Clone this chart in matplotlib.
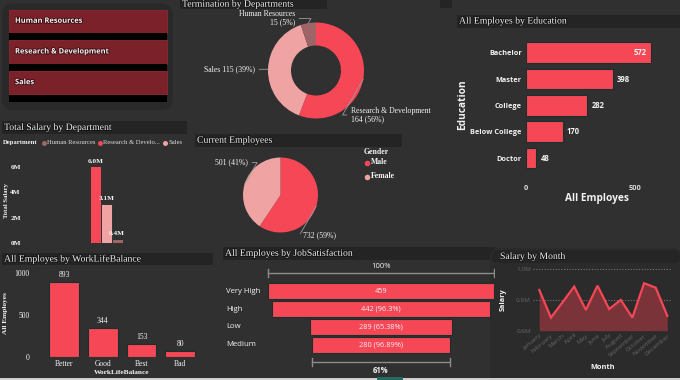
import matplotlib
matplotlib.use("Agg")
import matplotlib.pyplot as plt
from matplotlib.patches import FancyBboxPatch, Rectangle
import matplotlib.patheffects as pe
import numpy as np

# ---------------- data ----------------
departments = ["Human Resources", "Research & Development", "Sales"]
termination_counts = [15, 164, 115]
dept_total_salary_m = [0.36, 6.02, 3.06]
education_levels = ["Bachelor", "Master", "College", "Below College", "Doctor"]
education_counts = [572, 398, 282, 170, 48]
genders = ["Male", "Female"]
gender_counts = [732, 501]
wlb_levels = ["Better", "Good", "Best", "Bad"]
wlb_counts = [893, 344, 153, 80]
job_sat_levels = ["Very High", "High", "Low", "Medium"]
job_sat_counts = [459, 442, 289, 280]
months = ["January", "February", "March", "April", "May", "June", "July",
          "August", "September", "October", "November", "December"]
monthly_salary_m = [0.865, 0.685, 0.785, 0.887, 0.735, 0.893, 0.741, 0.80,
                    0.685, 0.909, 0.88, 0.696]

# ---------------- style ----------------
W, H = 680, 380
BG = "#303030"
TITLE_BG = "#242424"
RED = "#f54756"
PINK = "#f0a3a3"
MAUVE = "#9e6468"
EDGE = "#1d2e2e"
WHITE = "#f2f2f2"
SERIF = "Liberation Serif"
SANS = "Open Sans"
dept_colors = {"Human Resources": MAUVE, "Research & Development": RED, "Sales": PINK}

fig = plt.figure(figsize=(W / 100, H / 100), dpi=100, facecolor=BG)
bg = fig.add_axes([0, 0, 1, 1])
bg.set_xlim(0, W)
bg.set_ylim(H, 0)
bg.axis("off")
bg.set_zorder(0)


def px_axes(x0, y0, x1, y1):
    ax = fig.add_axes([x0 / W, 1 - y1 / H, (x1 - x0) / W, (y1 - y0) / H])
    ax.set_facecolor("none")
    ax.set_zorder(2)
    for s in ax.spines.values():
        s.set_visible(False)
    return ax


def title_box(x0, y0, x1, y1, text, ty=None):
    bg.add_patch(Rectangle((x0, y0), x1 - x0, y1 - y0, fc=TITLE_BG, ec="none"))
    bg.text(x0 + 2, (y0 + y1) / 2 if ty is None else ty, text, family=SERIF,
            fontsize=7, color=WHITE, va="center", ha="left",
            path_effects=[pe.withStroke(linewidth=1.0, foreground="#111111")])


# ---------------- slicer ----------------
bg.add_patch(FancyBboxPatch((2, 3.5), 171, 106.5, boxstyle="round,pad=0,rounding_size=12",
                            fc="#292929", ec="none"))
for i, d in enumerate(departments):
    y0 = 9.5 + i * 30.7
    bg.add_patch(Rectangle((9, y0), 158, 23.5, fc="#7a2129", ec="#8e2730", lw=0.6))
    bg.add_patch(Rectangle((9, y0 + 23.8), 158, 7, fc="black", ec="none"))
    bg.text(15, y0 + 11.8, d, family=SANS, fontsize=5.4, weight="bold", color=WHITE,
            va="center", ha="left",
            path_effects=[pe.withStroke(linewidth=1.2, foreground="#3a0a0e")])

# ---------------- termination donut ----------------
title_box(180, -4, 327, 8.5, "Termination by Departments", ty=4.2)
bg.add_patch(Rectangle((440, 0), 12, 8, fc=TITLE_BG, ec="none"))
axd = px_axes(190, 8, 440, 128)
order = [1, 2, 0]  # R&D, Sales, HR clockwise from top
vals = [termination_counts[i] for i in order]
cols = [dept_colors[departments[i]] for i in order]
cx, cy, r = 316, 380 - 70.5, 48
wedges, _ = axd.pie(vals, colors=cols, startangle=90, counterclock=False,
                    center=(cx, cy), radius=r, frame=True,
                    wedgeprops=dict(width=23, edgecolor="none"))
axd.set_xlim(190, 440)
axd.set_ylim(380 - 128, 380 - 8)
axd.axis("off")
tot = sum(termination_counts)
lab_cfg = {  # text anchor (px), alignment
    0: ((295, 18.5), "right"),
    1: ((351, 115), "left"),
    2: ((255, 69.3), "right"),
}
for w, idx in zip(wedges, order):
    ang = np.deg2rad((w.theta1 + w.theta2) / 2)
    ex, ey = cx + r * np.cos(ang), cy + r * np.sin(ang)
    (tx, ty), ha = lab_cfg[idx]
    name = departments[idx]
    pct = round(100 * termination_counts[idx] / tot)
    if idx == 2:
        txt = f"{name} {termination_counts[idx]} ({pct}%)"
    else:
        txt = f"{name}\n{termination_counts[idx]} ({pct}%)"
    axd.annotate(txt, xy=(ex, ey), xytext=(tx, 380 - ty), ha=ha, va="center",
                 family=SERIF, fontsize=5.6, color=WHITE, linespacing=1.0,
                 arrowprops=dict(arrowstyle="-", color="#9a9a9a", lw=0.6,
                                 shrinkA=1, shrinkB=0,
                                 connectionstyle="angle,angleA=0,angleB=60,rad=0"))

# ---------------- education ----------------
title_box(457, 14.5, 680, 27.5, "All Employes by Education")
axe = px_axes(526, 39.5, 672, 171.2)
ypos = np.arange(len(education_levels))
axe.barh(ypos, education_counts, height=0.78, color=RED, edgecolor=EDGE, lw=0.8)
axe.set_xlim(0, 670)
axe.set_ylim(len(education_levels) - 0.5, -0.5)
axe.set_yticks(ypos, education_levels)
axe.set_xticks([0, 500])
axe.tick_params(length=0, colors=WHITE, labelsize=5.3)
axe.tick_params(axis="y", pad=3)
axe.tick_params(axis="x", pad=10, labelcolor="#dddddd")
for lbl in axe.get_yticklabels() + axe.get_xticklabels():
    lbl.set_family(SANS)
    lbl.set_weight("bold")
mx = max(education_counts)
for y, v in zip(ypos, education_counts):
    if v > 0.85 * mx:
        axe.text(v - 17, y, str(v), ha="right", va="center", color=WHITE,
                 family=SANS, fontsize=5.5, weight="bold")
    else:
        axe.text(v + 18, y, str(v), ha="left", va="center", color=WHITE,
                 family=SANS, fontsize=5.5, weight="bold")
bg.text(597, 198, "All Employes", family=SANS, fontsize=7.3, weight="bold",
        color=WHITE, ha="center", va="center")
bg.text(463, 105, "Education", family=SANS, fontsize=7.3, weight="bold",
        color=WHITE, ha="center", va="center", rotation=90)

# ---------------- total salary by department ----------------
title_box(2, 121, 187, 134, "Total Salary by Department")
bg.text(3, 142.5, "Department", family=SERIF, fontsize=4.8, weight="bold",
        color=WHITE, ha="left", va="center")
leg_x = {"Human Resources": (43.5, "Human Resources"),
         "Research & Development": (99.5, "Research & Develo..."),
         "Sales": (165, "Sales")}
for d in departments:
    lx, lt = leg_x[d]
    bg.plot(lx, 142.5, "o", ms=3.6, color=dept_colors[d], mec="none")
    bg.text(lx + 3.5, 142.5, lt, family=SERIF, fontsize=4.8, color="#dddddd",
            ha="left", va="center")
axs = px_axes(25, 150, 187, 243.3)
sal_order = sorted(range(len(departments)), key=lambda i: -dept_total_salary_m[i])
for k, i in enumerate(sal_order):
    v = dept_total_salary_m[i]
    axs.bar(k - 1, v, width=1.0, color=dept_colors[departments[i]],
            edgecolor=EDGE, lw=0.6)
    axs.text(k - 1, v + 0.22, f"{v:.1f}M", ha="center", va="bottom", color=WHITE,
             family=SERIF, fontsize=5.2, weight="bold")
axs.set_xlim(-7.54, 7.46)
axs.set_ylim(0, 7.3)
axs.set_xticks([])
axs.set_yticks([0, 2, 4, 6], ["0M", "2M", "4M", "6M"])
axs.tick_params(length=0, colors=WHITE, labelsize=5.2, pad=3)
for lbl in axs.get_yticklabels():
    lbl.set_family(SERIF)
    lbl.set_weight("bold")
bg.text(6.5, 200, "Total Salary", family=SERIF, fontsize=4.8, weight="bold",
        color=WHITE, ha="center", va="center", rotation=90)

# ---------------- current employees pie ----------------
title_box(195, 134, 402, 146.5, "Current Employees")
axp = px_axes(190, 148, 440, 248)
pcx, pcy, pr = 280.5, 380 - 195, 37.5
pcols = [RED, PINK]
pw, _ = axp.pie(gender_counts, colors=pcols, startangle=90, counterclock=False,
                center=(pcx, pcy), radius=pr, frame=True,
                wedgeprops=dict(edgecolor="none"))
axp.set_xlim(190, 440)
axp.set_ylim(380 - 248, 380 - 148)
axp.axis("off")
gtot = sum(gender_counts)
glab = {0: ((303, 235), "left"), 1: ((248, 162.5), "right")}
for i, w in enumerate(pw):
    ang = np.deg2rad((w.theta1 + w.theta2) / 2)
    ex, ey = pcx + pr * np.cos(ang), pcy + pr * np.sin(ang)
    (tx, ty), ha = glab[i]
    pct = round(100 * gender_counts[i] / gtot)
    axp.annotate(f"{gender_counts[i]} ({pct}%)", xy=(ex, ey), xytext=(tx, 380 - ty),
                 ha=ha, va="center", family=SERIF, fontsize=5.6, color=WHITE,
                 arrowprops=dict(arrowstyle="-", color="#9a9a9a", lw=0.6,
                                 shrinkA=1, shrinkB=0,
                                 connectionstyle="angle,angleA=0,angleB=60,rad=0"))
bg.text(364, 151.5, "Gender", family=SERIF, fontsize=5.6, weight="bold",
        color=WHITE, ha="left", va="center")
for i, g in enumerate(genders):
    yy = 162.5 + i * 14
    bg.plot(367, yy, "o", ms=4, color=pcols[i], mec="none")
    bg.text(371, yy, g, family=SERIF, fontsize=5.6, weight="bold", color=WHITE,
            ha="left", va="center")

# ---------------- work life balance ----------------
title_box(2, 252.5, 213, 265, "All Employes by WorkLifeBalance")
axw = px_axes(44.85, 268, 199.65, 357.3)
xw = np.arange(len(wlb_levels))
axw.bar(xw, wlb_counts, width=0.77, color=RED, edgecolor=EDGE, lw=0.8)
for x, v in zip(xw, wlb_counts):
    axw.text(x, v + 36, str(v), ha="center", va="bottom", color=WHITE,
             family=SERIF, fontsize=5.5)
axw.set_xlim(-0.5, len(wlb_levels) - 0.5)
axw.set_ylim(0, 1063)
axw.set_xticks(xw, wlb_levels)
axw.set_yticks([0, 500, 1000])
axw.tick_params(length=0, colors=WHITE, labelsize=5.5)
axw.tick_params(axis="y", pad=11)
axw.tick_params(axis="x", pad=2)
for lbl in axw.get_yticklabels() + axw.get_xticklabels():
    lbl.set_family(SERIF)
bg.text(122, 373, "WorkLifeBalance", family=SERIF, fontsize=5.3, weight="bold",
        color=WHITE, ha="center", va="center")
bg.text(5.5, 313, "All Employes", family=SERIF, fontsize=5.3, weight="bold",
        color=WHITE, ha="center", va="center", rotation=90)

# ---------------- job satisfaction funnel ----------------
title_box(223, 246.5, 495, 259.5, "All Employes by JobSatisfaction")
axf = px_axes(223, 262, 495, 378)
s = 0.493
axf.set_xlim(-(380.85 - 223) / s, (495 - 380.85) / s)
n = len(job_sat_levels)
axf.set_ylim(4.87, -1.646)
yf = np.arange(n)
axf.barh(yf, job_sat_counts, left=[-v / 2 for v in job_sat_counts], height=0.9,
         color=RED, edgecolor=EDGE, lw=0.8)
xleft = axf.get_xlim()[0]
for i, (lvl, v) in enumerate(zip(job_sat_levels, job_sat_counts)):
    axf.text(xleft + 6, i, lvl, ha="left", va="center", color=WHITE,
             family=SANS, fontsize=5.6)
    if i == 0:
        lab = f"{v}"
    else:
        lab = f"{v} ({round(100 * v / job_sat_counts[i - 1], 2):g}%)"
    axf.text(0, i, lab, ha="center", va="center", color=WHITE, family=SANS,
             fontsize=5.3)
first, last = job_sat_counts[0], job_sat_counts[-1]
for yline, v in ((-1.01, first), (n - 1 + 0.99, last)):
    axf.plot([-v / 2, v / 2], [yline, yline], color="#8c8c8c", lw=1.0)
    for xe in (-v / 2, v / 2):
        axf.plot([xe, xe], [yline - 0.22, yline + 0.22], color="#8c8c8c", lw=1.0)
axf.text(0, -1.42, "100%", ha="center", va="center", color=WHITE, family=SANS,
         fontsize=5.5)
axf.text(0, n - 1 + 1.46, f"{round(100 * last / first)}%", ha="center", va="center",
         color=WHITE, family=SANS, fontsize=5.5, weight="bold")
axf.axis("off")

# ---------------- salary by month ----------------
bg.add_patch(FancyBboxPatch((490, 248), 193, 140, boxstyle="round,pad=0,rounding_size=10",
                            fc="#2b2b2b", ec="none"))
bg.add_patch(FancyBboxPatch((492, 250), 188, 13, boxstyle="round,pad=0,rounding_size=6",
                            fc="#252525", ec="none"))
bg.text(500, 256.5, "Salary by Month", family=SERIF, fontsize=7, color=WHITE,
        va="center", ha="left",
        path_effects=[pe.withStroke(linewidth=1.0, foreground="#111111")])
axm = px_axes(533, 266, 672, 330.7)
xm = np.arange(len(months))
axm.fill_between(xm, monthly_salary_m, 0.6, color="#7a3338", lw=0)
axm.plot(xm, monthly_salary_m, color=RED, lw=1.6, solid_joinstyle="miter")
axm.set_xlim(-0.54, 11.4)
axm.set_ylim(0.6, 1.021)
axm.set_yticks([0.6, 0.8, 1.0], ["0.6M", "0.8M", "1.0M"])
axm.grid(axis="y", color="#777777", lw=0.8, ls=(0, (1, 1.5)))
axm.set_axisbelow(True)
axm.set_xticks(xm, months, rotation=40, ha="right", rotation_mode="anchor")
axm.tick_params(length=0, colors="#666666", labelsize=4.6, pad=1.5)
for lbl in axm.get_yticklabels() + axm.get_xticklabels():
    lbl.set_family(SANS)
bg.text(603, 367.5, "Month", family=SANS, fontsize=5.3, weight="bold",
        color=WHITE, ha="center", va="center")
bg.text(503, 300, "Salary", family=SANS, fontsize=5.3, weight="bold",
        color=WHITE, ha="center", va="center", rotation=90)

# bottom page strip
bg.add_patch(Rectangle((0, 378), W, 2, fc="#cfcfcf", ec="none"))
bg.add_patch(Rectangle((377, 377), 26, 3, fc="#236b61", ec="none"))

fig.savefig("out.png", dpi=100, facecolor=BG)
